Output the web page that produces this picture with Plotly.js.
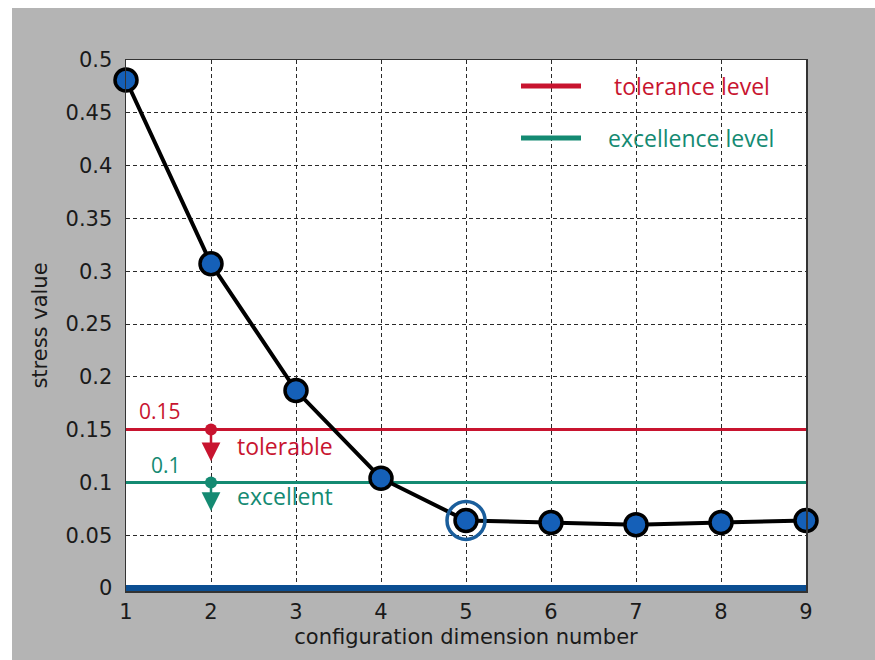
<!DOCTYPE html>
<html>
<head>
<meta charset="utf-8">
<script src="https://cdn.plot.ly/plotly-3.0.1.min.js"></script>
<style>
  html, body { margin: 0; padding: 0; background: #ffffff; }
  #chart { width: 875px; height: 660px; }
</style>
</head>
<body>
<div id="chart"></div>
<script>
// Stress value for each configuration dimension
const dims = [1, 2, 3, 4, 5, 6, 7, 8, 9];
const stress = [0.481, 0.307, 0.187, 0.104, 0.064, 0.062, 0.060, 0.062, 0.064];

// Reference levels
const toleranceLevel = 0.15;
const excellenceLevel = 0.1;
const toleranceTip = 0.12;
const excellenceTip = 0.073;
const markerDim = 2;
const chosenDim = 5;

const xTicks = [1, 2, 3, 4, 5, 6, 7, 8, 9];
const yTicks = [0, 0.05, 0.1, 0.15, 0.2, 0.25, 0.3, 0.35, 0.4, 0.45, 0.5];
const yTickText = ['0', '0.05', '0.1', '0.15', '0.2', '0.25', '0.3', '0.35', '0.4', '0.45', '0.5'];

const RED = '#c8142f';
const TEAL = '#148a72';
const BLUE = '#1560b8';
const DARKBLUE = '#0b4e92';
const GRAY = '#b4b4b4';

const W = 875, H = 660;
// a few extra pixels under zero so the thick baseline is not clipped
const M = { l: 126, r: 69, t: 60, b: 69 };
const pw = W - M.l - M.r, ph = H - M.t - M.b;
const yPad = 3 * 0.5 / (ph - 3);
const px = v => (v - M.l) / pw;          // pixel -> paper x
const py = v => (H - M.b - v) / ph;      // pixel -> paper y

const chosenIdx = dims.indexOf(chosenDim);
const xMin = dims[0], xMax = dims[dims.length - 1];

const traces = [
  // zero baseline
  { x: [xMin, xMax], y: [0, 0], mode: 'lines',
    line: { color: DARKBLUE, width: 6 }, hoverinfo: 'skip', showlegend: false },
  // tolerance level
  { x: [xMin, xMax], y: [toleranceLevel, toleranceLevel], mode: 'lines',
    line: { color: RED, width: 3 }, hoverinfo: 'skip', showlegend: false },
  // excellence level
  { x: [xMin, xMax], y: [excellenceLevel, excellenceLevel], mode: 'lines',
    line: { color: TEAL, width: 3 }, hoverinfo: 'skip', showlegend: false },
  // level anchor dots
  { x: [markerDim], y: [toleranceLevel], mode: 'markers',
    marker: { color: RED, size: 12 }, hoverinfo: 'skip', showlegend: false },
  { x: [markerDim], y: [excellenceLevel], mode: 'markers',
    marker: { color: TEAL, size: 12 }, hoverinfo: 'skip', showlegend: false },
  // stress curve
  { x: dims, y: stress, mode: 'lines+markers',
    line: { color: '#000000', width: 4 },
    marker: { color: BLUE, size: 22, line: { color: '#000000', width: 3.5 } },
    cliponaxis: false, showlegend: false },
  // chosen dimension ring
  { x: [dims[chosenIdx]], y: [stress[chosenIdx]], mode: 'markers',
    marker: { symbol: 'circle-open', size: 38, color: '#1a5e9c', line: { color: '#1a5e9c', width: 3.5 } },
    hoverinfo: 'skip', showlegend: false }
];

const tickFont = { family: 'DejaVu Sans, sans-serif', size: 21, color: '#1a1a1a' };
const noteFont = { family: 'Open Sans, sans-serif', size: 23 };

const layout = {
  width: W, height: H,
  margin: M,
  paper_bgcolor: GRAY,
  plot_bgcolor: '#ffffff',
  showlegend: false,
  xaxis: {
    range: [xMin, xMax], tickvals: xTicks, ticktext: xTicks.map(String),
    showgrid: true, gridcolor: '#2a2a2a', gridwidth: 1, griddash: '4px,3px',
    zeroline: false, showline: true, mirror: true, linecolor: '#333333', linewidth: 1.5,
    ticks: '', tickfont: tickFont, ticklabelstandoff: 1,
    title: { text: 'configuration dimension number', font: tickFont, standoff: 6 }
  },
  yaxis: {
    range: [-yPad, 0.5], tickvals: yTicks, ticktext: yTickText,
    showgrid: true, gridcolor: '#2a2a2a', gridwidth: 1, griddash: '4px,3px',
    zeroline: false, showline: true, mirror: true, linecolor: '#333333', linewidth: 1.5,
    ticks: '', tickfont: tickFont, ticklabelstandoff: 8,
    title: { text: 'stress value', font: tickFont, standoff: 12 }
  },
  shapes: [
    // white strips outside the gray frame
    { type: 'rect', xref: 'paper', yref: 'paper', x0: px(0), x1: px(12), y0: py(H), y1: py(0),
      fillcolor: '#ffffff', line: { width: 0 }, layer: 'above' },
    { type: 'rect', xref: 'paper', yref: 'paper', x0: px(0), x1: px(W), y0: py(8), y1: py(0),
      fillcolor: '#ffffff', line: { width: 0 }, layer: 'above' },
    // legend samples
    { type: 'line', xref: 'paper', yref: 'paper', x0: px(521), x1: px(581), y0: py(86), y1: py(86),
      line: { color: RED, width: 5 } },
    { type: 'line', xref: 'paper', yref: 'paper', x0: px(521), x1: px(581), y0: py(138), y1: py(138),
      line: { color: TEAL, width: 5 } }
  ],
  annotations: [
    { xref: 'paper', yref: 'paper', x: px(612), y: py(86), xanchor: 'left', yanchor: 'middle',
      text: 'tolerance level', showarrow: false, font: Object.assign({}, noteFont, { color: RED }) },
    { xref: 'paper', yref: 'paper', x: px(606), y: py(138), xanchor: 'left', yanchor: 'middle',
      text: 'excellence level', showarrow: false, font: Object.assign({}, noteFont, { color: TEAL }) },
    { xref: 'x', yref: 'y', x: markerDim, y: toleranceTip, ax: markerDim, ay: toleranceLevel,
      axref: 'x', ayref: 'y', showarrow: true, arrowhead: 2, arrowsize: 1.5, arrowwidth: 2.5,
      arrowcolor: RED, text: '' },
    { xref: 'x', yref: 'y', x: markerDim, y: excellenceTip, ax: markerDim, ay: excellenceLevel,
      axref: 'x', ayref: 'y', showarrow: true, arrowhead: 2, arrowsize: 1.5, arrowwidth: 2.5,
      arrowcolor: TEAL, text: '' },
    { xref: 'paper', yref: 'paper', x: px(160), y: py(411), xanchor: 'center', yanchor: 'middle',
      text: String(toleranceLevel), showarrow: false, font: Object.assign({}, noteFont, { color: RED, size: 21 }) },
    { xref: 'paper', yref: 'paper', x: px(235), y: py(446), xanchor: 'left', yanchor: 'middle',
      text: 'tolerable', showarrow: false, font: Object.assign({}, noteFont, { color: RED }) },
    { xref: 'paper', yref: 'paper', x: px(166), y: py(465), xanchor: 'center', yanchor: 'middle',
      text: String(excellenceLevel), showarrow: false, font: Object.assign({}, noteFont, { color: TEAL, size: 21 }) },
    { xref: 'paper', yref: 'paper', x: px(235), y: py(496), xanchor: 'left', yanchor: 'middle',
      text: 'excellent', showarrow: false, font: Object.assign({}, noteFont, { color: TEAL }) }
  ]
};

Plotly.newPlot('chart', traces, layout, { displayModeBar: false, staticPlot: true });
</script>
</body>
</html>
